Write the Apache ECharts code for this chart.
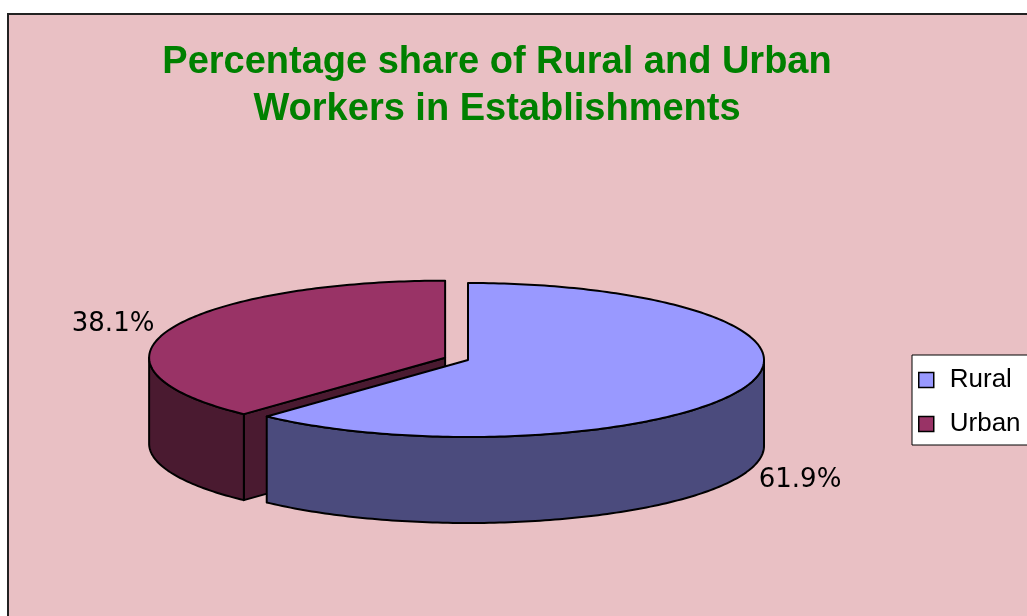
<!DOCTYPE html>
<html>
<head>
<meta charset="utf-8">
<script src="https://cdn.jsdelivr.net/npm/echarts@6/dist/echarts.min.js"></script>
<style>
  html, body { margin: 0; padding: 0; background: #fff; }
  #main { width: 1027px; height: 616px; }
</style>
</head>
<body>
<div id="main"></div>
<script>
// data
var categories = ['Rural', 'Urban']
var shares = [61.9, 38.1]

// styles
var topColors = ['#9999FF', '#993366']
var sideColors = ['#4B4B7D', '#4A1A30']
var explode = [0, 0.083]

// 3d pie layout
var pie3d = { cx: 468, cy: 360, rx: 296, ry: 77, depth: 86, labelOut: 0.205 }

var total = shares.reduce(function (a, b) { return a + b }, 0)
var starts = []
var acc = 0
shares.forEach(function (v) { starts.push(acc); acc += v })

function rad(a) { return a * Math.PI / 180 }

function renderSlice(params, api) {
  var i = params.seriesIndex
  var start = api.value(0), val = api.value(1)
  var a0 = start / total * 360, a1 = (start + val) / total * 360
  var mid = (a0 + a1) / 2
  var P = pie3d
  var ox = P.cx + Math.sin(rad(mid)) * explode[i] * P.rx
  var oy = P.cy - Math.cos(rad(mid)) * explode[i] * P.ry
  function pt(a, z) {
    return [ox + Math.sin(rad(a)) * P.rx, oy - Math.cos(rad(a)) * P.ry + z]
  }
  function arc(from, to, z) {
    var pts = []
    var n = Math.max(2, Math.ceil(to - from))
    for (var k = 0; k <= n; k++) pts.push(pt(from + (to - from) * k / n, z))
    return pts
  }
  var line = { stroke: '#000', lineWidth: 2, lineJoin: 'round' }
  var side = sideColors[i]
  var children = []

  // cut faces
  if (Math.cos(rad(a0 - 90)) < -1e-6) {
    children.push({ type: 'polygon', shape: { points: [[ox, oy], pt(a0, 0), pt(a0, P.depth), [ox, oy + P.depth]] },
      style: Object.assign({ fill: side }, line) })
  }
  if (Math.cos(rad(a1 + 90)) < -1e-6) {
    children.push({ type: 'polygon', shape: { points: [[ox, oy], pt(a1, 0), pt(a1, P.depth), [ox, oy + P.depth]] },
      style: Object.assign({ fill: side }, line) })
  }
  // outer wall (front half only)
  var w0 = Math.max(a0, 90), w1 = Math.min(a1, 270)
  if (w1 > w0) {
    var wall = arc(w0, w1, 0).concat(arc(w0, w1, P.depth).reverse())
    children.push({ type: 'polygon', shape: { points: wall }, style: Object.assign({ fill: side }, line) })
  }
  // top face
  var top = [[ox, oy]].concat(arc(a0, a1, 0))
  children.push({ type: 'polygon', shape: { points: top }, style: Object.assign({ fill: topColors[i] }, line) })

  // label outside the slice
  var f = 1 + P.labelOut
  var lx = ox + Math.sin(rad(mid)) * P.rx * f
  var ly = oy - Math.cos(rad(mid)) * P.ry * f + (Math.cos(rad(mid)) < 0 ? P.depth : 0)
  children.push({ type: 'text', style: {
    text: val.toFixed(1) + '%', x: lx, y: ly, align: 'center', verticalAlign: 'middle',
    fontSize: 26, fontFamily: 'DejaVu Sans', fill: '#000'
  } })

  return { type: 'group', children: children }
}

var chart = echarts.init(document.getElementById('main'))

var option = {
  backgroundColor: '#fff',
  animation: false,
  title: {
    text: 'Percentage share of Rural and Urban\nWorkers in Establishments',
    left: 492,
    top: 34,
    textAlign: 'center',
    textStyle: {
      color: '#008000',
      fontFamily: 'Liberation Sans',
      fontWeight: 'bold',
      fontSize: 38,
      lineHeight: 47
    }
  },
  legend: {
    data: categories,
    orient: 'vertical',
    left: 912,
    top: 355,
    padding: [12, 40, 8, 6],
    itemGap: 18,
    itemWidth: 15,
    itemHeight: 15,
    icon: 'rect',
    backgroundColor: '#fff',
    borderColor: '#000',
    borderWidth: 1,
    borderRadius: 0,
    itemStyle: { borderColor: '#000', borderWidth: 1.5 },
    textStyle: {
      fontFamily: 'Liberation Sans',
      fontSize: 26,
      lineHeight: 26,
      color: '#000',
      padding: [0, 0, 0, 11]
    }
  },
  graphic: [{
    type: 'rect',
    z: -10,
    silent: true,
    shape: { x: 8, y: 14, width: 1030, height: 610 },
    style: { fill: '#E9C0C4', stroke: '#222', lineWidth: 2 }
  }],
  series: categories.map(function (name, i) {
    var a0 = starts[i] / total * 360, a1 = (starts[i] + shares[i]) / total * 360
    return {
      type: 'custom',
      name: name,
      coordinateSystem: 'none',
      silent: true,
      z: (a0 <= 180 && a1 >= 180) ? 3 : 2,
      itemStyle: { color: topColors[i] },
      renderItem: renderSlice,
      data: [[starts[i], shares[i]]]
    }
  })
}

chart.setOption(option)
</script>
</body>
</html>
